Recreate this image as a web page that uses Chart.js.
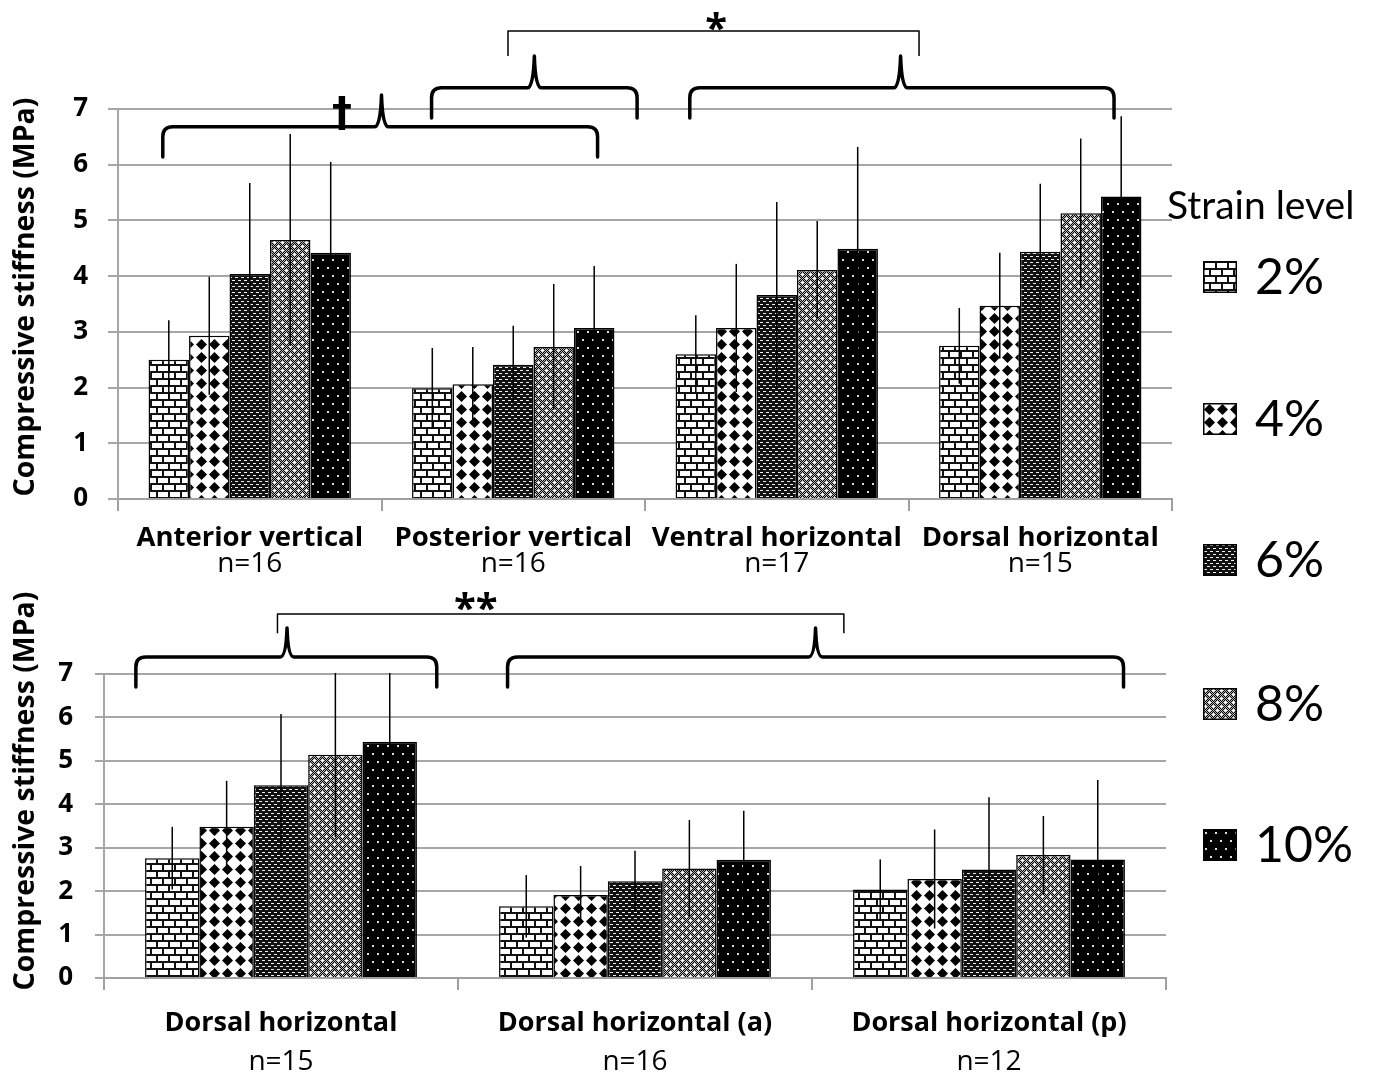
<!DOCTYPE html>
<html>
<head>
<meta charset="utf-8">
<script src="https://cdn.jsdelivr.net/npm/chart.js@4.4.1/dist/chart.umd.min.js"></script>
<style>
  body { margin: 0; background: #fff; width: 1375px; height: 1083px; overflow: hidden; position: relative; font-family: Lato, sans-serif; }
  .box { position: absolute; left: 0; width: 1375px; }
  #topBox { top: 0; height: 590px; }
  #botBox { top: 590px; height: 493px; }
  #legendTitle { position: absolute; left: 1167px; top: 185px; font-size: 39px; line-height: 1; color: #000; }
  .swatch { position: absolute; left: 1203px; width: 34px; height: 32px; }
  .legLabel { position: absolute; left: 1255px; font-size: 50px; line-height: 1; color: #000; }
</style>
</head>
<body>
<div class="box" id="topBox"><canvas id="topChart"></canvas></div>
<div class="box" id="botBox"><canvas id="botChart"></canvas></div>
<div id="legendTitle">Strain level</div>
<div id="legend"></div>
<script>
// strain levels (series)
const strainLevels = ["2%", "4%", "6%", "8%", "10%"];

// top panel
const topCategories = ["Anterior vertical", "Posterior vertical", "Ventral horizontal", "Dorsal horizontal"];
const topN = ["n=16", "n=16", "n=17", "n=15"];
const top2 = [2.50, 1.99, 2.60, 2.75];
const top4 = [2.93, 2.06, 3.07, 3.47];
const top6 = [4.04, 2.41, 3.66, 4.44];
const top8 = [4.65, 2.73, 4.11, 5.13];
const top10 = [4.42, 3.07, 4.49, 5.43];
const topSd2 = [0.71, 0.72, 0.70, 0.68];
const topSd4 = [1.06, 0.67, 1.15, 0.95];
const topSd6 = [1.63, 0.70, 1.67, 1.22];
const topSd8 = [1.90, 1.13, 0.88, 1.34];
const topSd10 = [1.63, 1.11, 1.83, 1.44];

// bottom panel
const botCategories = ["Dorsal horizontal", "Dorsal horizontal (a)", "Dorsal horizontal (p)"];
const botN = ["n=15", "n=16", "n=12"];
const bot2 = [2.76, 1.65, 2.04];
const bot4 = [3.48, 1.91, 2.28];
const bot6 = [4.44, 2.23, 2.50];
const bot8 = [5.14, 2.52, 2.83];
const bot10 = [5.44, 2.72, 2.73];
const botSd2 = [0.72, 0.72, 0.69];
const botSd4 = [1.06, 0.67, 1.14];
const botSd6 = [1.64, 0.70, 1.66];
const botSd8 = [1.90, 1.12, 0.90];
const botSd10 = [1.63, 1.13, 1.83];

const yTicks = [0, 1, 2, 3, 4, 5, 6, 7];

// ---- fill patterns (Excel style) ----
function makePattern(w, h, draw) {
  const c = document.createElement("canvas");
  c.width = w; c.height = h;
  const g = c.getContext("2d");
  draw(g, w, h);
  return g.createPattern(c, "repeat");
}
const patterns = [
  makePattern(12, 14, (g) => {           // bricks
    g.fillStyle = "#fff"; g.fillRect(0, 0, 12, 14);
    g.fillStyle = "#111";
    g.fillRect(0, 0, 12, 2); g.fillRect(0, 7, 12, 2);
    g.fillRect(0, 0, 2, 7); g.fillRect(6, 7, 2, 7);
  }),
  makePattern(13, 13, (g) => {           // diamonds
    g.fillStyle = "#fff"; g.fillRect(0, 0, 13, 13);
    g.fillStyle = "#000";
    g.beginPath();
    g.moveTo(6.5, 1); g.lineTo(12, 6.5); g.lineTo(6.5, 12); g.lineTo(1, 6.5);
    g.closePath(); g.fill();
  }),
  makePattern(6, 6, (g) => {             // dark weave
    g.fillStyle = "#111"; g.fillRect(0, 0, 6, 6);
    g.fillStyle = "#eee";
    g.fillRect(1, 1, 3, 1); g.fillRect(4, 4, 2, 1); g.fillRect(0, 4, 1, 1);
  }),
  makePattern(8, 8, (g) => {             // grey checker + white crosses
    for (let y = 0; y < 8; y++) for (let x = 0; x < 8; x++) {
      g.fillStyle = (x + y) % 2 ? "#000" : "#b4b4b4"; g.fillRect(x, y, 1, 1);
    }
    g.fillStyle = "#fff";
    [[2, 2], [6, 6]].forEach(([cx, cy]) => {
      g.fillRect(cx - 1, cy, 3, 1); g.fillRect(cx, cy - 1, 1, 3);
    });
  }),
  makePattern(10, 16, (g) => {           // black with sparse dots
    g.fillStyle = "#000"; g.fillRect(0, 0, 10, 16);
    g.fillStyle = "#ddd";
    g.fillRect(2, 3, 2, 2); g.fillRect(7, 11, 2, 2);
  })
];

// ---- plugins ----
const errorBars = {
  id: "errorBars",
  afterDatasetsDraw(chart) {
    const { ctx, chartArea, scales: { y } } = chart;
    ctx.save();
    ctx.beginPath();
    ctx.rect(chartArea.left, chartArea.top - 1, chartArea.right - chartArea.left, chartArea.bottom - chartArea.top + 1);
    ctx.clip();
    ctx.strokeStyle = "#000";
    ctx.lineWidth = 1.5;
    chart.data.datasets.forEach((ds, i) => {
      chart.getDatasetMeta(i).data.forEach((bar, j) => {
        const v = ds.data[j], sd = ds.sd[j];
        ctx.beginPath();
        ctx.moveTo(bar.x, y.getPixelForValue(v + sd));
        ctx.lineTo(bar.x, y.getPixelForValue(v - sd));
        ctx.stroke();
      });
    });
    ctx.restore();
  }
};

function drawBrace(ctx, x1, x2, xm, yLine, yEnd, yTip) {
  ctx.beginPath();
  ctx.moveTo(x1, yEnd);
  ctx.lineTo(x1, yLine + 10);
  ctx.quadraticCurveTo(x1, yLine, x1 + 10, yLine);
  ctx.lineTo(xm - 7, yLine);
  ctx.quadraticCurveTo(xm - 1, yLine, xm, yTip);
  ctx.quadraticCurveTo(xm + 1, yLine, xm + 7, yLine);
  ctx.lineTo(x2 - 10, yLine);
  ctx.quadraticCurveTo(x2, yLine, x2, yLine + 10);
  ctx.lineTo(x2, yEnd);
  ctx.stroke();
}

const annotations = {
  id: "annotations",
  afterDraw(chart, args, opts) {
    const { ctx, scales: { x, y } } = chart;
    const cw = x.width / chart.data.labels.length;
    const px = (c) => x.getPixelForValue(c[0]) + c[1] * cw;
    ctx.save();
    ctx.strokeStyle = "#000";
    ctx.fillStyle = "#000";
    ctx.lineCap = "round";
    ctx.lineJoin = "round";
    ctx.lineWidth = 3.5;
    (opts.braces || []).forEach((b) => {
      drawBrace(ctx, px(b.from), px(b.to), px(b.mid),
        y.getPixelForValue(b.line), y.getPixelForValue(b.end), y.getPixelForValue(b.tip));
    });
    ctx.lineWidth = 1.5;
    ctx.lineCap = "butt";
    (opts.links || []).forEach((l) => {
      const a = px(l.from), b = px(l.to);
      const yl = y.getPixelForValue(l.line), ye = y.getPixelForValue(l.end);
      ctx.beginPath();
      ctx.moveTo(a, ye); ctx.lineTo(a, yl); ctx.lineTo(b, yl); ctx.lineTo(b, ye);
      ctx.stroke();
    });
    ctx.textAlign = "center";
    ctx.textBaseline = "middle";
    (opts.marks || []).forEach((m) => {
      ctx.font = "bold " + m.size + "px " + (m.family || "'Open Sans'");
      ctx.fillText(m.text, px(m.at), y.getPixelForValue(m.value));
    });
    // sample sizes under category names
    ctx.font = "28px 'Open Sans'";
    (opts.counts || []).forEach((t, i) => {
      ctx.fillText(t, x.getPixelForValue(i), chart.chartArea.bottom + opts.countOffset);
    });
    // y axis title
    ctx.font = "bold 28.5px 'Open Sans'";
    ctx.translate(opts.titleX, opts.titleY);
    ctx.rotate(-Math.PI / 2);
    ctx.fillText(opts.title, 0, 0);
    ctx.restore();
  }
};

function makeChart(canvasId, cats, series, sds, layout, notes) {
  return new Chart(document.getElementById(canvasId), {
    type: "bar",
    data: {
      labels: cats,
      datasets: strainLevels.map((lab, i) => ({
        label: lab,
        data: series[i],
        sd: sds[i],
        backgroundColor: patterns[i],
        borderColor: "#000",
        borderWidth: 1.5,
        categoryPercentage: 0.768,
        barPercentage: 1.0
      }))
    },
    options: {
      responsive: true,
      maintainAspectRatio: false,
      animation: false,
      layout: { padding: { top: layout.top, right: layout.right, left: 0, bottom: 0 } },
      plugins: { legend: { display: false }, tooltip: { enabled: false }, annotations: notes },
      scales: {
        x: {
          afterFit: (s) => { s.height = layout.xHeight; },
          grid: { drawOnChartArea: false, drawTicks: true, tickLength: 12, color: "#a0a0a0", lineWidth: 2, offset: true },
          border: { display: true, color: "#a0a0a0", width: 2 },
          ticks: { color: "#000", font: { family: "'Open Sans'", size: layout.xFont, weight: "bold" }, padding: layout.xPad, maxRotation: 0, autoSkip: false }
        },
        y: {
          min: 0, max: 7,
          afterFit: (s) => { s.width = layout.yWidth; },
          afterBuildTicks: (s) => { s.ticks = yTicks.map((v) => ({ value: v })); },
          grid: { color: "#a6a6a6", lineWidth: 2, tickLength: layout.yTick, drawTicks: true },
          border: { display: true, color: "#a6a6a6", width: 2 },
          ticks: { color: "#000", font: { family: "'Open Sans'", size: 26, weight: "bold" }, padding: layout.yPad }
        }
      }
    },
    plugins: [errorBars, annotations]
  });
}

makeChart("topChart", topCategories,
  [top2, top4, top6, top8, top10],
  [topSd2, topSd4, topSd6, topSd8, topSd10],
  { top: 109, right: 203, xHeight: 91, yWidth: 118, yTick: 10, yPad: 20, xPad: 11, xFont: 27.5 },
  {
    title: "Compressive stiffness (MPa)", titleX: 26, titleY: 297,
    counts: topN, countOffset: 65,
    braces: [
      { from: [0, -0.33], to: [1, 0.32], mid: [0, 0.5], line: 6.68, end: 6.14, tip: 7.25 },
      { from: [1, -0.31], to: [1, 0.47], mid: [1, 0.08], line: 7.38, end: 6.84, tip: 7.95 },
      { from: [2, -0.33], to: [3, 0.28], mid: [2, 0.47], line: 7.38, end: 6.84, tip: 7.95 }
    ],
    links: [{ from: [1, -0.02], to: [2, 0.54], line: 8.40, end: 7.95 }],
    marks: [
      { text: "*", at: [2, -0.23], value: 8.40, size: 40 },
      { text: "†", at: [0, 0.35], value: 6.88, size: 40, family: "'DejaVu Sans'" }
    ]
  });

makeChart("botChart", botCategories,
  [bot2, bot4, bot6, bot8, bot10],
  [botSd2, botSd4, botSd6, botSd8, botSd10],
  { top: 84, right: 209, xHeight: 105, yWidth: 104, yTick: 9, yPad: 22, xPad: 17, xFont: 27 },
  {
    title: "Compressive stiffness (MPa)", titleX: 26, titleY: 201,
    counts: botN, countOffset: 84,
    braces: [
      { from: [0, -0.41], to: [0, 0.44], mid: [0, 0.017], line: 7.39, end: 6.70, tip: 8.06 },
      { from: [1, -0.36], to: [2, 0.38], mid: [1, 0.51], line: 7.39, end: 6.70, tip: 8.06 }
    ],
    links: [{ from: [0, -0.01], to: [1, 0.59], line: 8.38, end: 7.94 }],
    marks: [{ text: "**", at: [0, 0.55], value: 8.45, size: 40 }]
  });

// ---- legend ----
const legend = document.getElementById("legend");
const legendCenters = [277, 419, 560, 704, 845];
strainLevels.forEach((lab, i) => {
  const sw = document.createElement("canvas");
  sw.className = "swatch";
  sw.width = 34; sw.height = 32;
  sw.style.top = (legendCenters[i] - 16) + "px";
  const g = sw.getContext("2d");
  g.fillStyle = patterns[i];
  g.fillRect(0, 0, 34, 32);
  g.strokeStyle = "#000"; g.lineWidth = 1.5;
  g.strokeRect(0.75, 0.75, 32.5, 30.5);
  legend.appendChild(sw);
  const t = document.createElement("div");
  t.className = "legLabel";
  t.textContent = lab;
  t.style.top = (legendCenters[i] + 17 - 44) + "px";
  legend.appendChild(t);
});
</script>
</body>
</html>
